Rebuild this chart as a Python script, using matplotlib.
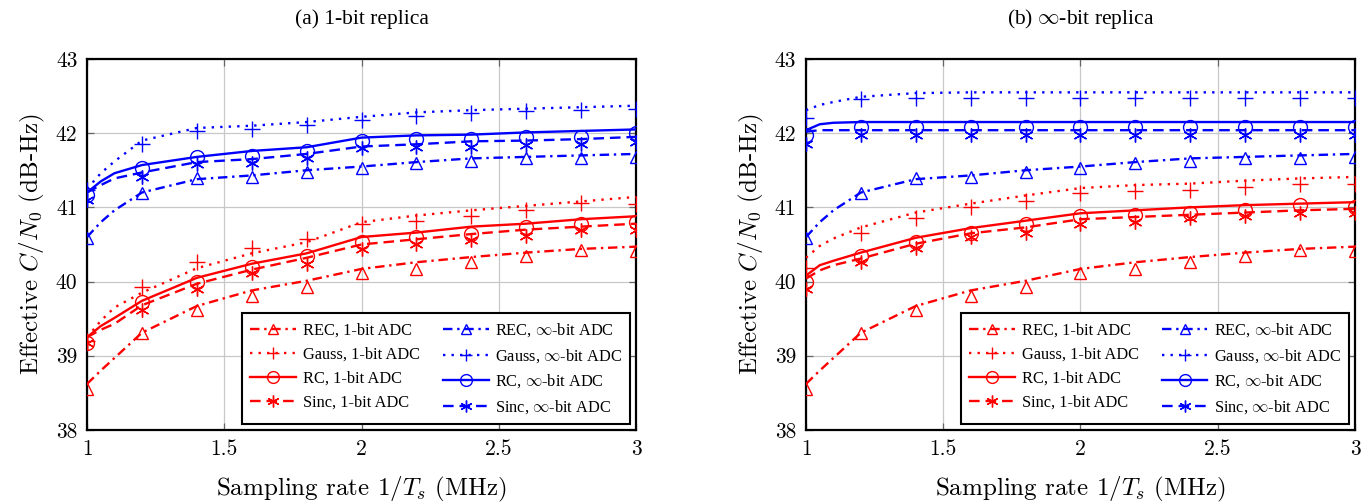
import matplotlib
matplotlib.use("Agg")
import matplotlib.pyplot as plt
import matplotlib.ticker as mticker
from matplotlib.lines import Line2D

plt.rcParams.update({
    "font.family": ["Liberation Serif", "DejaVu Serif"],
    "mathtext.fontset": "cm",
    "axes.unicode_minus": False,
})

# ─── Data ─────────────────────────────────────────────────────────────────────
# smooth curves (line values) and marker positions
X_LINE = [1.0, 1.05, 1.1, 1.2, 1.4, 1.6, 1.8, 2.0, 2.2, 2.4, 2.6, 2.8, 3.0]
X_MARK = [1.0, 1.2, 1.4, 1.6, 1.8, 2.0, 2.2, 2.4, 2.6, 2.8, 3.0]

# REC is the same in both panels
rec_1bit_line = [38.62, 38.80, 38.97, 39.31, 39.67, 39.88, 40.01, 40.17, 40.26, 40.33, 40.39, 40.44, 40.47]
rec_1bit_mark = [38.55, 39.30, 39.62, 39.80, 39.93, 40.11, 40.17, 40.27, 40.35, 40.42, 40.41]
rec_inf_line = [40.60, 40.80, 40.96, 41.20, 41.38, 41.43, 41.50, 41.55, 41.61, 41.66, 41.68, 41.70, 41.72]
rec_inf_mark = [40.59, 41.19, 41.40, 41.41, 41.47, 41.53, 41.60, 41.62, 41.66, 41.66, 41.68]

# (a) 1-bit replica
a_gauss_1bit_line = [39.25, 39.47, 39.65, 39.85, 40.18, 40.38, 40.53, 40.80, 40.89, 40.96, 41.02, 41.08, 41.14]
a_gauss_1bit_mark = [39.20, 39.93, 40.26, 40.45, 40.58, 40.78, 40.82, 40.89, 40.96, 41.06, 41.05]
a_rc_1bit_line = [39.25, 39.40, 39.51, 39.74, 40.05, 40.24, 40.38, 40.60, 40.66, 40.74, 40.78, 40.84, 40.88]
a_rc_1bit_mark = [39.17, 39.72, 40.00, 40.19, 40.35, 40.53, 40.60, 40.64, 40.73, 40.78, 40.80]
a_sinc_1bit_line = [39.25, 39.35, 39.43, 39.68, 39.97, 40.16, 40.32, 40.50, 40.57, 40.64, 40.70, 40.74, 40.78]
a_sinc_1bit_mark = [39.17, 39.61, 39.90, 40.12, 40.24, 40.44, 40.51, 40.56, 40.62, 40.70, 40.70]
a_gauss_inf_line = [41.25, 41.46, 41.62, 41.90, 42.07, 42.10, 42.15, 42.22, 42.28, 42.31, 42.33, 42.35, 42.37]
a_gauss_inf_mark = [41.23, 41.85, 42.03, 42.05, 42.11, 42.18, 42.23, 42.27, 42.30, 42.31, 42.32]
a_rc_inf_line = [41.20, 41.35, 41.46, 41.57, 41.68, 41.76, 41.81, 41.94, 41.97, 41.98, 42.01, 42.03, 42.05]
a_rc_inf_mark = [41.16, 41.53, 41.68, 41.69, 41.76, 41.90, 41.92, 41.92, 41.95, 41.95, 42.00]
a_sinc_inf_line = [41.20, 41.30, 41.39, 41.47, 41.61, 41.65, 41.72, 41.82, 41.85, 41.89, 41.90, 41.92, 41.95]
a_sinc_inf_mark = [41.10, 41.41, 41.58, 41.60, 41.66, 41.80, 41.81, 41.82, 41.84, 41.85, 41.88]

# (b) inf-bit replica
b_gauss_1bit_line = [40.32, 40.48, 40.58, 40.73, 40.93, 41.05, 41.16, 41.26, 41.30, 41.32, 41.36, 41.39, 41.41]
b_gauss_1bit_mark = [40.18, 40.66, 40.86, 41.00, 41.09, 41.19, 41.22, 41.24, 41.27, 41.32, 41.32]
b_rc_1bit_line = [40.08, 40.22, 40.28, 40.39, 40.59, 40.72, 40.82, 40.92, 40.96, 41.00, 41.03, 41.05, 41.07]
b_rc_1bit_mark = [39.99, 40.35, 40.53, 40.66, 40.78, 40.89, 40.90, 40.92, 40.96, 41.03, 41.01]
b_sinc_1bit_line = [40.04, 40.15, 40.22, 40.31, 40.51, 40.65, 40.73, 40.84, 40.87, 40.90, 40.93, 40.96, 40.98]
b_sinc_1bit_mark = [39.90, 40.26, 40.45, 40.60, 40.66, 40.78, 40.80, 40.85, 40.89, 40.93, 40.93]
b_gauss_inf_line = [42.31, 42.38, 42.42, 42.49, 42.54, 42.55, 42.55, 42.55, 42.55, 42.55, 42.55, 42.55, 42.55]
b_gauss_inf_mark = [42.20, 42.46, 42.47, 42.47, 42.47, 42.47, 42.47, 42.47, 42.47, 42.47, 42.47]
b_rc_inf_line = [42.04, 42.12, 42.14, 42.15, 42.15, 42.15, 42.15, 42.15, 42.15, 42.15, 42.15, 42.15, 42.15]
b_rc_inf_mark = [41.97, 42.08, 42.08, 42.08, 42.08, 42.08, 42.08, 42.08, 42.08, 42.08, 42.08]
b_sinc_inf_line = [42.02, 42.04, 42.04, 42.04, 42.04, 42.04, 42.04, 42.04, 42.04, 42.04, 42.04, 42.04, 42.04]
b_sinc_inf_mark = [41.86, 41.97, 41.97, 41.97, 41.97, 41.97, 41.97, 41.97, 41.97, 41.97, 41.97]

PULSES = ["REC", "Gauss", "RC", "Sinc"]
TITLES = ["(a) 1-bit replica", r"(b) $\infty$-bit replica"]
X_TICKS = [1, 1.5, 2, 2.5, 3]
Y_TICKS = [38, 39, 40, 41, 42, 43]

# ─── Styles ───────────────────────────────────────────────────────────────────
RED, BLUE = "#ff0000", "#0000ff"
STYLE = {
    "REC":   dict(ls=(0, (4, 2, 1, 2)), marker="^"),
    "Gauss": dict(ls=(0, (1, 2.6)), marker="+"),
    "RC":    dict(ls="-", marker="o"),
    "Sinc":  dict(ls=(0, (4.5, 2.5)), marker=(6, 2, 0)),
}
MS = {"^": 8.5, "+": 11, "o": 10, (6, 2, 0): 10}

panels = [
    {
        "1bit": {"REC": (rec_1bit_line, rec_1bit_mark), "Gauss": (a_gauss_1bit_line, a_gauss_1bit_mark),
                 "RC": (a_rc_1bit_line, a_rc_1bit_mark), "Sinc": (a_sinc_1bit_line, a_sinc_1bit_mark)},
        "inf": {"REC": (rec_inf_line, rec_inf_mark), "Gauss": (a_gauss_inf_line, a_gauss_inf_mark),
                "RC": (a_rc_inf_line, a_rc_inf_mark), "Sinc": (a_sinc_inf_line, a_sinc_inf_mark)},
    },
    {
        "1bit": {"REC": (rec_1bit_line, rec_1bit_mark), "Gauss": (b_gauss_1bit_line, b_gauss_1bit_mark),
                 "RC": (b_rc_1bit_line, b_rc_1bit_mark), "Sinc": (b_sinc_1bit_line, b_sinc_1bit_mark)},
        "inf": {"REC": (rec_inf_line, rec_inf_mark), "Gauss": (b_gauss_inf_line, b_gauss_inf_mark),
                "RC": (b_rc_inf_line, b_rc_inf_mark), "Sinc": (b_sinc_inf_line, b_sinc_inf_mark)},
    },
]

fig = plt.figure(figsize=(13.71, 5.04), dpi=100)
axes = [fig.add_axes([0.0635, 0.147, 0.4004, 0.736]),
        fig.add_axes([0.5879, 0.147, 0.4004, 0.736])]

for ax, data, title in zip(axes, panels, TITLES):
    handles = []
    for key, color, tag in (("1bit", RED, "1-bit"), ("inf", BLUE, r"$\infty$-bit")):
        for p in PULSES:
            line_y, mark_y = data[key][p]
            st = STYLE[p]
            ax.plot(X_LINE, line_y, color=color, ls=st["ls"], lw=1.7, zorder=3)
            ax.plot(X_MARK, mark_y, ls="none", marker=st["marker"], ms=MS[st["marker"]],
                    mfc="none", mec=color, mew=1.0, zorder=4)
            handles.append(Line2D([0], [0], color=color, ls=st["ls"], lw=1.7,
                                  marker=st["marker"], ms=MS[st["marker"]] * 0.85,
                                  mfc="none", mec=color, mew=1.0,
                                  label=f"{p}, {tag} ADC"))

    ax.set_xlim(1, 3)
    ax.set_ylim(38, 43)
    ax.set_xticks(X_TICKS)
    ax.set_yticks(Y_TICKS)
    ax.xaxis.set_major_formatter(mticker.FuncFormatter(lambda v, _: f"{v:g}"))
    ax.grid(True, color="#c8c8c8", lw=0.9)
    ax.set_axisbelow(True)
    ax.tick_params(direction="in", length=5, width=0.9, color="#666666",
                   top=True, right=True, labelsize=15.5, pad=7)
    for lab in ax.get_xticklabels() + ax.get_yticklabels():
        lab.set_fontfamily("cmr10")
    for sp in ax.spines.values():
        sp.set_linewidth(1.6)

    ax.set_xlabel(r"Sampling rate $1/T_s$ (MHz)", fontsize=18, fontfamily="cmr10", labelpad=11)
    ax.set_ylabel(r"Effective $C/N_0$ (dB-Hz)", fontsize=18, fontfamily="cmr10", labelpad=6)
    ax.set_title(title, fontsize=15.5, pad=25)

    leg = ax.legend(handles=handles, ncol=2, loc="lower right", fontsize=11.8,
                    handlelength=2.8, handletextpad=0.4, columnspacing=1.4,
                    labelspacing=0.48, borderaxespad=0.35, borderpad=0.5,
                    fancybox=False, framealpha=1, edgecolor="black")
    leg.get_frame().set_linewidth(1.5)

fig.savefig("out.png", dpi=100)
